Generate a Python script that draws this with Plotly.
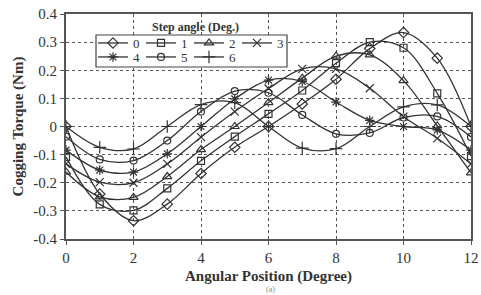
import plotly.graph_objects as go

# ---- data ----
angle = [0, 1, 2, 3, 4, 5, 6, 7, 8, 9, 10, 11, 12]
step_labels = ["0", "1", "2", "3", "4", "5", "6"]
torque_0 = [0.0, -0.240, -0.335, -0.276, -0.167, -0.074, 0.000, 0.080, 0.168, 0.277, 0.334, 0.243, 0.000]
torque_1 = [-0.108, -0.277, -0.298, -0.220, -0.122, -0.036, 0.045, 0.128, 0.225, 0.300, 0.280, 0.118, -0.105]
torque_2 = [-0.162, -0.250, -0.252, -0.178, -0.082, 0.000, 0.085, 0.172, 0.250, 0.255, 0.163, 0.002, -0.165]
torque_3 = [-0.133, -0.198, -0.200, -0.133, -0.038, 0.053, 0.135, 0.205, 0.205, 0.136, 0.035, -0.042, -0.133]
torque_4 = [-0.084, -0.155, -0.162, -0.097, 0.000, 0.098, 0.165, 0.160, 0.087, 0.022, 0.000, -0.012, -0.084]
torque_5 = [-0.036, -0.117, -0.121, -0.050, 0.053, 0.126, 0.120, 0.041, -0.026, -0.023, 0.032, 0.036, -0.037]
torque_6 = [0.000, -0.074, -0.080, 0.000, 0.078, 0.085, 0.000, -0.077, -0.079, 0.000, 0.070, 0.077, 0.000]
series = [torque_0, torque_1, torque_2, torque_3, torque_4, torque_5, torque_6]

x_ticks = [0, 2, 4, 6, 8, 10, 12]
y_ticks = [-0.4, -0.3, -0.2, -0.1, 0, 0.1, 0.2, 0.3, 0.4]
y_ticktext = ["-0.4", "-0.3", "-0.2", "-0.1", "0", "0.1", "0.2", "0.3", "0.4"]

symbols = ["diamond-open", "square-open", "triangle-up-open", "x-thin-open",
           "asterisk-open", "circle-open", "cross-thin-open"]
sizes = [8, 7, 8, 8, 8, 7, 9]

INK = "#333333"
SERIF = "Liberation Serif, Times New Roman, serif"

fig = go.Figure()
for i, (lab, ys) in enumerate(zip(step_labels, series)):
    fig.add_trace(go.Scatter(
        x=angle, y=ys, name=lab, mode="lines+markers",
        line=dict(color=INK, width=1.3, shape="spline", smoothing=1.0),
        marker=dict(symbol=symbols[i], size=sizes[i], color=INK,
                    line=dict(color=INK, width=1.2)),
        legend="legend" if i < 4 else "legend2",
    ))

W, H = 481, 295
ml, mr, mt, mb = 66, 10, 14, 56
pw, ph = W - ml - mr, H - mt - mb
PLOT_LEFT, PLOT_BOTTOM = ml, H - mb  # page pixels (body margin removed below)


def px2paper_x(px):
    return (px - PLOT_LEFT) / pw


def px2paper_y(py):
    return (PLOT_BOTTOM - py) / ph


fig.update_layout(
    width=W, height=H,
    margin=dict(l=ml, r=mr, t=mt, b=mb, pad=0, autoexpand=False),
    paper_bgcolor="white", plot_bgcolor="white",
    font=dict(family=SERIF, size=15, color=INK),
    showlegend=True,
    legend=dict(orientation="h", x=px2paper_x(93), y=px2paper_y(28),
                xanchor="left", yanchor="top", bgcolor="rgba(0,0,0,0)",
                borderwidth=0, font=dict(family=SERIF, size=13, color=INK),
                entrywidth=3, tracegroupgap=0),
    legend2=dict(orientation="h", x=px2paper_x(93), y=px2paper_y(42),
                 xanchor="left", yanchor="top", bgcolor="rgba(0,0,0,0)",
                 borderwidth=0, font=dict(family=SERIF, size=13, color=INK),
                 entrywidth=3, tracegroupgap=0),
)

fig.update_xaxes(
    range=[0, 12], tickvals=x_ticks, ticktext=[str(v) for v in x_ticks],
    showgrid=True, gridcolor="#555555", gridwidth=1, griddash="3px,3px",
    zeroline=False, showline=True, linecolor="#555555", linewidth=2, mirror=True,
    ticks="outside", ticklen=4, tickcolor="#555555", tickwidth=1,
    tickfont=dict(family=SERIF, size=15, color=INK), automargin=False,
    ticklabeloverflow="allow",
    title=dict(text="<b>Angular Position (Degree)</b>",
               font=dict(family=SERIF, size=15, color=INK), standoff=5),
)
fig.update_yaxes(
    range=[-0.4, 0.4], tickvals=y_ticks, ticktext=y_ticktext,
    showgrid=True, gridcolor="#555555", gridwidth=1, griddash="3px,3px",
    zeroline=False, showline=True, linecolor="#555555", linewidth=2, mirror=True,
    ticks="outside", ticklen=4, tickcolor="#555555", tickwidth=1,
    tickfont=dict(family=SERIF, size=15, color=INK), automargin=False,
    ticklabeloverflow="allow",
    title=dict(text="<b>Cogging Torque (Nm)</b>",
               font=dict(family=SERIF, size=15, color=INK), standoff=6),
)

# legend frame (white box) and its title outside the frame
fig.add_shape(type="rect", xref="paper", yref="paper",
              x0=px2paper_x(96), x1=px2paper_x(287),
              y0=px2paper_y(67), y1=px2paper_y(35),
              line=dict(color="#444444", width=1.2), fillcolor="white", layer="above")
fig.add_annotation(text="<b>Step angle (Deg.)</b>", xref="paper", yref="paper",
                   x=px2paper_x(195), y=px2paper_y(27), showarrow=False,
                   xanchor="center", yanchor="middle",
                   font=dict(family=SERIF, size=12, color=INK))
# faint caption at the very bottom of the picture
fig.add_annotation(text="(a)", xref="paper", yref="paper",
                   x=px2paper_x(270), y=px2paper_y(289), showarrow=False,
                   xanchor="center", yanchor="middle",
                   font=dict(family=SERIF, size=8, color="#888888"))

fig.write_html(
    "out.html",
    config={"displayModeBar": False},
    post_script="document.body.style.margin='0';document.body.style.overflow='hidden';",
)
